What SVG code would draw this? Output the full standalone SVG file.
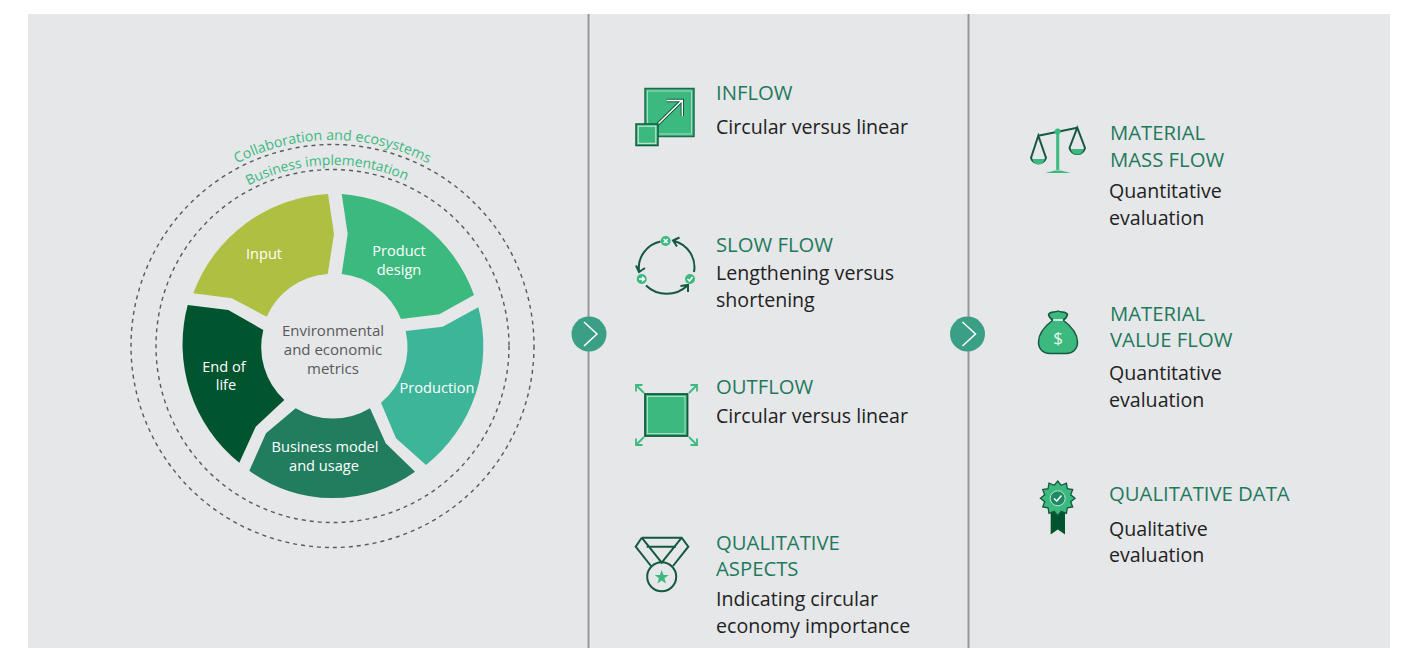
<svg xmlns="http://www.w3.org/2000/svg" width="1404" height="648" viewBox="0 0 1404 648">
<style>
text{font-family:"Open Sans","Noto Sans","Liberation Sans",sans-serif}
.h{font-size:20.300px;fill:#1f7a5c}
.b{font-size:19.600px;fill:#222}
.s{font-size:14.600px;fill:#fff;text-anchor:middle}
.c{font-size:15px;fill:#58595b;text-anchor:middle}
.ring{fill:none;stroke:#58595b;stroke-width:1.400;stroke-dasharray:4 4}
.d{fill:none;stroke:#14593f;stroke-width:2}
.g{fill:#3cb97f}
.gl{fill:none;stroke:#3cb97f;stroke-width:1.800}
.w{fill:none;stroke:#fff;stroke-width:1.500}
.sep{stroke:#999;stroke-width:2}
</style>
<defs>
<path id="pc" d="M 126.500 346 A 206 206 0 0 1 538.500 346"/>
<path id="pb" d="M 151.500 346 A 181 181 0 0 1 513.500 346"/>
</defs>
<rect id="panel" x="28" y="14" width="1362" height="634" fill="#e6e7e9"/>
<g id="connectors">
<line class="sep" x1="588.500" y1="14" x2="588.500" y2="648"/>
<line class="sep" x1="968.500" y1="14" x2="968.500" y2="648"/>
</g>
<g id="next-1"><circle cx="589" cy="334" r="17.500" fill="#3a9f85"/><path class="w" d="M584 322L597 334L584 346"/></g>
<g id="next-2"><circle cx="967.500" cy="334" r="17.500" fill="#3a9f85"/><path class="w" d="M962.500 322L975.500 334L962.500 346"/></g>

<g id="rings">
<circle class="ring" cx="332.500" cy="346" r="201.500"/>
<circle class="ring" cx="332.500" cy="346" r="176.500"/>
<text font-size="14.200" fill="#3cb97f" text-anchor="middle"><textPath href="#pc" startOffset="50%">Collaboration and ecosystems</textPath></text>
<text font-size="13.800" fill="#3cb97f" text-anchor="middle"><textPath href="#pb" startOffset="49%">Business implementation</textPath></text>
</g>
<g id="seg-input"><path fill="#afbf42" d="M328 194L334 234L327.700 274A72 72 0 0 0 266.700 316.700L231.700 298.300L193.300 293.300A152 152 0 0 1 328 194Z"/><text class="s" x="264" y="259">Input</text></g>
<g id="seg-design"><path fill="#3cb97f" d="M341.700 194L347.700 234L341.700 274A72 72 0 0 1 401 319L439.300 314.300L474 295A152 152 0 0 0 341.700 194Z"/><text class="s" x="399" y="256">Product</text><text class="s" x="399" y="275">design</text></g>
<g id="seg-production"><path fill="#3cb598" d="M478.300 307.300L442.700 326.700L405.700 331A72 72 0 0 1 381 402.700L396 438.300L426 465A152 152 0 0 0 478.300 307.300Z"/><text class="s" x="437" y="393">Production</text></g>
<g id="seg-business"><path fill="#217d5e" d="M295.700 408.300A72 72 0 0 0 370 408.300L385.700 443.300L415 471.700A141 141 0 0 1 249.300 470.700L266 433.300Z"/><text class="s" x="325" y="452">Business model</text><text class="s" x="324" y="471">and usage</text></g>
<g id="seg-end"><path fill="#01552e" d="M187.700 305L228.300 310L263.300 330A72 72 0 0 0 284.300 400L255.700 426.700L239.300 462.700A152 152 0 0 1 187.700 305Z"/><text class="s" x="224" y="372">End of</text><text class="s" x="226" y="390">life</text></g>
<g id="center"><text class="c" x="333" y="336">Environmental</text><text class="c" x="333" y="355">and economic</text><text class="c" x="333" y="374">metrics</text></g>

<g id="inflow">
<rect x="645" y="88.500" width="49" height="48" class="g" stroke="#1f6b50" stroke-width="1.500"/>
<rect x="647.500" y="91" width="44" height="43" fill="none" stroke="#bfe6d2" stroke-width=".8"/>
<path d="M658 124L682 100.500M666.700 100.500H682.300V116" fill="none" stroke="#14593f" stroke-width="3.400"/>
<path d="M658 124L682 100.500M666.700 100.500H682.300V116" fill="none" stroke="#fff" stroke-width="1.400"/>
<rect x="636" y="124" width="22" height="21.500" class="g" stroke="#14593f" stroke-width="1.500"/>
<rect x="638.200" y="126.200" width="17.600" height="17.100" fill="none" stroke="#d5eee0" stroke-width="1"/>
<text class="h" x="716" y="100">INFLOW</text><text class="b" x="716" y="134">Circular versus linear</text>
</g>
<g id="slow-flow">
<path class="d" d="M660.500 241.500A27 27 0 0 0 639 271M636 265.500L639 272L645 268"/>
<path class="d" d="M674 241A27 27 0 0 1 694 272M679.500 237.500L673 240.500L677 246.500"/>
<path class="d" d="M646 285.500A30 30 0 0 0 687.500 285.500M680.500 286L688 285L688 292"/>
<circle class="g" cx="665.700" cy="241" r="5"/><circle class="g" cx="641.700" cy="279" r="5"/><circle class="g" cx="690" cy="279" r="5"/>
<path class="w" d="M663.700 239L667.700 243M667.700 239L663.700 243M639 279H644M642 276.800L644.300 279L642 281.200M687.500 279L689.500 281L692.500 277"/>
<text class="h" x="716" y="252">SLOW FLOW</text><text class="b" x="716" y="280">Lengthening versus</text><text class="b" x="716" y="307">shortening</text>
</g>
<g id="outflow">
<rect x="645" y="394" width="42.500" height="42" class="g" stroke="#14593f" stroke-width="1.800"/>
<rect x="647.500" y="396.500" width="37.500" height="37" fill="none" stroke="#bfe6d2" stroke-width=".8"/>
<path class="gl" d="M636 385L644 393M636 391.500V385H642.500M697 385L689 393M690.500 385H697V391.500M636 445L644 437M636 438.500V445H642.500M697 445L689 437M690.500 445H697V438.500"/>
<text class="h" x="716" y="394">OUTFLOW</text><text class="b" x="716" y="423">Circular versus linear</text>
</g>
<g id="qualitative-aspects">
<path class="d" d="M641.700 537.700H681.700L688.300 546.700L673 566M641.700 537.700L635.700 546.700L651 566M646.700 546.700H676M641.700 537.700L661.700 562.700L681.700 537.700"/>
<circle class="d" cx="661.700" cy="576.700" r="14.500"/>
<polygon class="g" points="661.700,570 663.500,575 668.700,575 664.500,578.300 666,583.500 661.700,580.400 657.400,583.500 658.900,578.300 654.700,575 659.900,575"/>
<text class="h" x="716" y="550">QUALITATIVE</text><text class="h" x="716" y="576">ASPECTS</text><text class="b" x="716" y="606">Indicating circular</text><text class="b" x="716" y="633">economy importance</text>
</g>
<g id="material-mass-flow">
<path class="d" d="M1038.300 135.700L1077.300 127.700M1038.300 135.700L1031 158A8 8 0 0 0 1046 158ZM1077.300 127.700L1069.500 148A8 8 0 0 0 1085 148Z"/>
<path class="g" d="M1032.500 159H1044.500A6 5.500 0 0 1 1032.500 159ZM1071 149H1083.500A6.200 5.500 0 0 1 1071 149Z"/>
<path d="M1057.700 132V170" fill="none" stroke="#3cb97f" stroke-width="3"/>
<path class="g" d="M1045 173L1055 170.500H1060.500L1070.700 173Z"/>
<circle class="g" cx="1057.700" cy="131.500" r="3"/>
<text class="h" x="1110" y="140">MATERIAL</text><text class="h" x="1110" y="167">MASS FLOW</text><text class="b" x="1109" y="198">Quantitative</text><text class="b" x="1109" y="225">evaluation</text>
</g>
<g id="material-value-flow">
<path class="g" stroke="#14593f" stroke-width="1.500" d="M1058 311C1055 313 1050 311 1048.500 314.500C1049 317 1051 319 1053 320C1045 326 1038.500 333 1038.500 342C1038.500 350 1044 353.500 1050 353.500H1066C1072 353.500 1077.500 350 1077.500 342C1077.500 333 1071 326 1063 320C1065 319 1067 317 1067.500 314.500C1066 311 1061 313 1058 311Z"/>
<path class="w" d="M1053 320H1063"/>
<text x="1058" y="344" font-size="17" fill="#e9f7f0" text-anchor="middle">$</text>
<text class="h" x="1110" y="321">MATERIAL</text><text class="h" x="1110" y="347">VALUE FLOW</text><text class="b" x="1109" y="380">Quantitative</text><text class="b" x="1109" y="407">evaluation</text>
</g>
<g id="qualitative-data">
<path fill="#01552e" d="M1050.700 510H1065V534.500L1057.800 529.500L1050.700 534.500Z"/>
<polygon class="g" stroke="#14593f" stroke-width="1.300" points="1057.700,481 1061.200,485.300 1066.400,483.200 1067.300,488.700 1072.700,489.600 1070.700,494.800 1075,498.300 1070.700,501.800 1072.700,507 1067.300,507.900 1066.400,513.400 1061.200,511.300 1057.700,515.600 1054.200,511.300 1049,513.400 1048.100,507.900 1042.700,507 1044.700,501.800 1040.400,498.300 1044.700,494.800 1042.700,489.600 1048.100,488.700 1049,483.200 1054.200,485.300"/>
<circle cx="1057.700" cy="498.300" r="7.500" fill="#1f8a64" stroke="#bfe6d2"/>
<path class="w" d="M1054 498.500L1056.800 501L1061.500 495.500"/>
<text class="h" x="1109" y="501">QUALITATIVE DATA</text><text class="b" x="1109" y="536">Qualitative</text><text class="b" x="1109" y="562">evaluation</text>
</g>
</svg>
